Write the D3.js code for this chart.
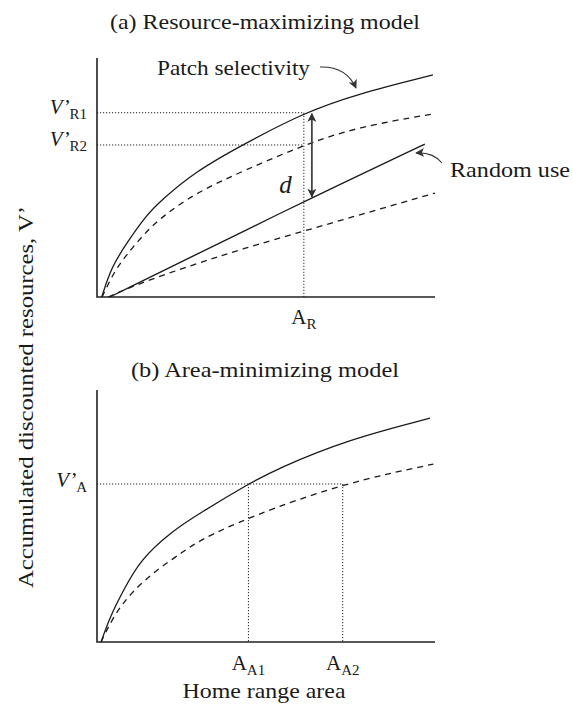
<!DOCTYPE html>
<html>
<head>
<meta charset="utf-8">
<script src="https://cdn.jsdelivr.net/npm/d3@7"></script>
<style>
  body { margin: 0; background: #fff; }
  svg text { font-family: "Liberation Serif", "DejaVu Serif", serif; fill: #1a1a1a; }
</style>
</head>
<body>
<div id="chart"></div>
<script>
// Home range models, two panels sharing the x range

const width = 573;
const height = 704;

// (a) resource-maximizing model: [area, V'] pairs
const patchHigh = [[0.14,0],[0.43,1.27],[0.88,2.25],[1.42,3.36],[1.91,4.06],[2.90,5.24],[4.29,6.36],[6.12,7.71],[7.68,8.49],[9.94,9.29]];
const patchLow = [[0.15,0],[0.53,1.13],[0.92,1.84],[1.42,2.68],[1.92,3.35],[2.90,4.35],[4.38,5.31],[6.12,6.36],[7.69,7.11],[9.94,7.66]];
const randomHigh = [[0.38,0],[4.38,2.78],[6.12,3.99],[9.70,6.40]];
const randomLow = [[0.33,0],[1.12,0.50],[2.90,1.38],[4.29,2.01],[6.12,2.76],[10.0,4.35]];

// (b) area-minimizing model
const areaHigh = [[0.12,0],[0.38,0.99],[0.77,2.02],[1.27,3.25],[2.19,4.37],[3.05,5.12],[4.48,6.27],[5.32,6.87],[7.39,8.02],[9.85,8.88]];
const areaLow = [[0.12,0],[0.48,1.00],[0.98,1.93],[1.76,2.86],[2.55,3.58],[3.05,4.05],[4.48,4.95],[7.29,6.30],[9.95,7.06]];

// reference levels (x = area, y = V')
const aR = 6.12;
const vR = [7.71, 6.36];          // V'R1, V'R2
const vA = 6.27;
const aA = [4.48, 7.27];          // AA1, AA2
const dBottom = 4.15;             // random-use line under the d arrow

const svg = d3.select("#chart")
  .append("svg")
  .attr("width", width)
  .attr("height", height);

const defs = svg.append("defs");
defs.append("marker")
  .attr("id", "head")
  .attr("viewBox", "0 0 10 10")
  .attr("refX", 9).attr("refY", 5)
  .attr("markerWidth", 9).attr("markerHeight", 9)
  .attr("markerUnits", "userSpaceOnUse")
  .attr("orient", "auto-start-reverse")
  .append("path")
  .attr("d", "M0,0 L10,5 L0,10 L2.5,5 Z")
  .attr("fill", "#333");

const x = d3.scaleLinear().domain([0, 10]).range([97, 435]);
const yA = d3.scaleLinear().domain([0, 10]).range([297, 58]);
const yB = d3.scaleLinear().domain([0, 10]).range([642, 390]);

function panel(y) {
  const g = svg.append("g");
  // axes: plain L-shaped frame, no ticks
  g.append("path")
    .attr("d", `M${x(0)},${y(10)} V${y(0)} H${x(10)}`)
    .attr("fill", "none")
    .attr("stroke", "#222")
    .attr("stroke-width", 1.6);
  return g;
}

function curve(g, y, pts, dashed) {
  const line = d3.line()
    .x(d => x(d[0]))
    .y(d => y(d[1]))
    .curve(d3.curveBasis);
  g.append("path")
    .datum(pts)
    .attr("d", line)
    .attr("fill", "none")
    .attr("stroke", "#1a1a1a")
    .attr("stroke-width", 1.3)
    .attr("stroke-dasharray", dashed ? "6,5" : null);
}

function dotted(g, x1, y1, x2, y2) {
  g.append("line")
    .attr("x1", x1).attr("y1", y1).attr("x2", x2).attr("y2", y2)
    .attr("stroke", "#222")
    .attr("stroke-width", 1)
    .attr("stroke-dasharray", "1.2,1.8");
}

// plain text, stretched to the width it has in the figure
function label(px, py, str, len, anchor) {
  return svg.append("text")
    .attr("x", px).attr("y", py)
    .attr("text-anchor", anchor || "start")
    .attr("font-size", 21)
    .attr("textLength", len)
    .attr("lengthAdjust", "spacingAndGlyphs")
    .text(str);
}

// label with subscript, e.g. V'R1 or AA1
function subLabel(g, px, py, main, sub, anchor, italic) {
  const t = g.append("text")
    .attr("x", px).attr("y", py)
    .attr("text-anchor", anchor)
    .attr("font-size", 21);
  t.append("tspan").text(main).attr("font-style", italic ? "italic" : null);
  t.append("tspan").text(sub).attr("font-size", 15).attr("dy", 5);
}

// ---- panel (a)
const ga = panel(yA);
label(265, 29, "(a) Resource-maximizing model", 310, "middle");

dotted(ga, x(0), yA(vR[0]), x(aR), yA(vR[0]));
dotted(ga, x(0), yA(vR[1]), x(aR), yA(vR[1]));
dotted(ga, x(aR), yA(vR[0]), x(aR), yA(0));

curve(ga, yA, patchHigh, false);
curve(ga, yA, patchLow, true);
curve(ga, yA, randomHigh, false);
curve(ga, yA, randomLow, true);

// d arrow between patch selectivity and random use
ga.append("line")
  .attr("x1", x(aR) + 8).attr("y1", yA(vR[0]) + 1)
  .attr("x2", x(aR) + 8).attr("y2", yA(dBottom) - 1)
  .attr("stroke", "#444")
  .attr("stroke-width", 1.8)
  .attr("marker-start", "url(#head)")
  .attr("marker-end", "url(#head)");
ga.append("text")
  .attr("x", x(aR) - 12).attr("y", 193)
  .attr("text-anchor", "end")
  .attr("font-size", 25)
  .attr("font-style", "italic")
  .text("d");

subLabel(ga, 87, 114, "V’", "R1", "end", true);
subLabel(ga, 87, 146, "V’", "R2", "end", true);
subLabel(ga, x(aR), 324, "A", "R", "middle", false);

label(157, 75, "Patch selectivity", 153);
ga.append("path")
  .attr("d", "M320,67 Q346,66 356,88")
  .attr("fill", "none")
  .attr("stroke", "#333")
  .attr("stroke-width", 1.1)
  .attr("marker-end", "url(#head)");

label(450, 177, "Random use", 120);
ga.append("path")
  .attr("d", "M442,163 Q433,152 416,153")
  .attr("fill", "none")
  .attr("stroke", "#333")
  .attr("stroke-width", 1.1)
  .attr("marker-end", "url(#head)");

// ---- panel (b)
const gb = panel(yB);
label(265, 377, "(b) Area-minimizing model", 268, "middle");

dotted(gb, x(0), yB(vA), x(aA[1]), yB(vA));
aA.forEach(a => dotted(gb, x(a), yB(vA), x(a), yB(0)));

curve(gb, yB, areaHigh, false);
curve(gb, yB, areaLow, true);

subLabel(gb, 87, 487, "V’", "A", "end", true);
subLabel(gb, x(aA[0]), 670, "A", "A1", "middle", false);
subLabel(gb, x(aA[1]), 670, "A", "A2", "middle", false);

label(264, 698, "Home range area", 163, "middle");

svg.append("text")
  .attr("transform", "translate(33,397) rotate(-90)")
  .attr("text-anchor", "middle")
  .attr("font-size", 21)
  .attr("textLength", 382)
  .attr("lengthAdjust", "spacingAndGlyphs")
  .text("Accumulated discounted resources, V’");
</script>
</body>
</html>
